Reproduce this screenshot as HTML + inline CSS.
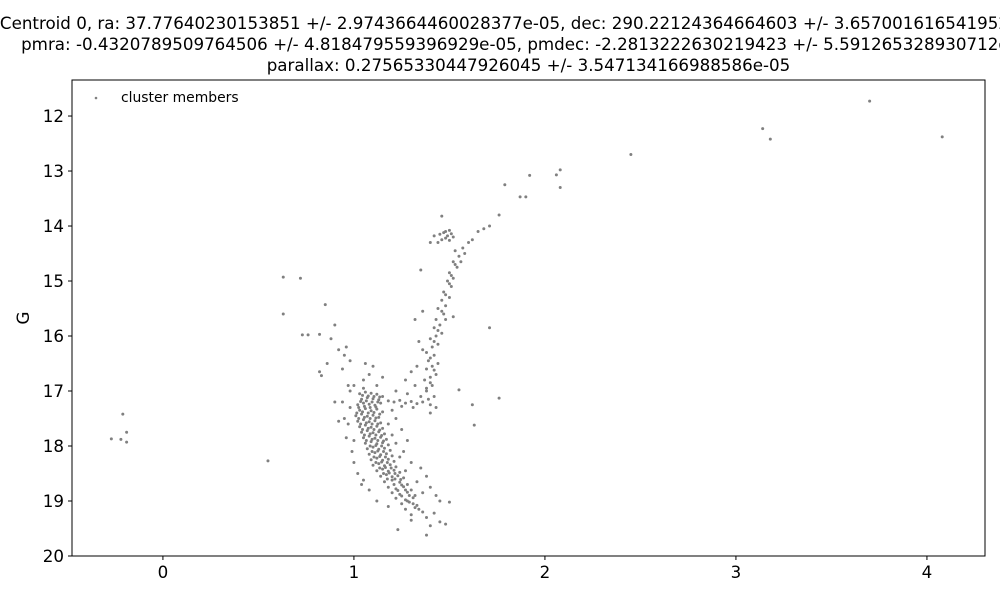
<!DOCTYPE html>
<html><head><meta charset="utf-8"><style>
html,body{margin:0;padding:0;background:#fff;overflow:hidden}
svg{display:block;font-family:"DejaVu Sans","Liberation Sans",sans-serif}
</style></head><body>
<svg id="chart" width="1000" height="600" viewBox="0 0 1000 600" xmlns="http://www.w3.org/2000/svg">
<g font-size="16.7" text-anchor="middle" fill="#000">
<text x="528.5" y="29">Centroid 0, ra: 37.77640230153851 +/- 2.9743664460028377e-05, dec: 290.22124364664603 +/- 3.6570016165419527e-05</text>
<text x="528.5" y="50">pmra: -0.4320789509764506 +/- 4.818479559396929e-05, pmdec: -2.2813222630219423 +/- 5.591265328930712e-05</text>
<text x="528.5" y="71">parallax: 0.27565330447926045 +/- 3.547134166988586e-05</text>
</g>
<g id="points"></g>
<rect x="72" y="80" width="913" height="476" fill="none" stroke="#000" stroke-width="1"/>
<g id="xaxis"></g>
<g id="yaxis"></g>
<text x="0" y="0" font-size="16.7" text-anchor="middle" transform="translate(29,318) rotate(-90)">G</text>
<g>
<circle cx="96" cy="98" r="1.3" fill="#808080"/>
<text x="121" y="102" font-size="13.9">cluster members</text>
</g>
</svg>
<script>
const xTicks=[0,1,2,3,4];
const yTicks=[12,13,14,15,16,17,18,19,20];
const members=[
[3.70,11.73],[4.08,12.38],[3.14,12.23],[3.18,12.42],[2.45,12.70],[2.08,12.98],[2.06,13.07],[2.08,13.30],[1.92,13.08],[1.79,13.25],[1.87,13.47],[1.90,13.47],[1.76,13.80],[1.71,14.00],[1.68,14.05],[1.65,14.10],[1.62,14.25],
[0.63,14.93],[0.72,14.95],[0.63,15.60],[0.85,15.43],[0.73,15.98],[0.76,15.98],[0.82,15.97],[0.90,15.80],[0.88,16.05],[0.92,16.25],[0.86,16.50],[0.82,16.65],[0.83,16.72],[0.95,16.35],
[-0.27,17.87],[-0.21,17.42],[-0.19,17.75],[-0.22,17.88],[-0.19,17.93],[0.55,18.27],
[1.03,17.05],[1.06,17.02],[1.09,17.04],[1.12,17.06],[1.15,17.1],[1.04,17.15],[1.07,17.12],[1.10,17.14],[1.13,17.16],[1.02,17.25],[1.05,17.22],[1.08,17.24],[1.11,17.26],[1.14,17.22],[1.03,17.35],[1.06,17.32],[1.09,17.36],[1.12,17.33],[1.15,17.38],[1.01,17.45],[1.04,17.42],[1.07,17.46],[1.10,17.44],[1.13,17.48],[1.02,17.55],[1.05,17.52],[1.08,17.56],[1.11,17.54],[1.14,17.58],[1.03,17.65],[1.06,17.62],[1.09,17.66],[1.12,17.64],[1.15,17.68],[1.04,17.75],[1.07,17.72],[1.10,17.76],[1.13,17.74],[1.16,17.78],[1.05,17.85],[1.08,17.82],[1.11,17.86],[1.14,17.84],[1.17,17.88],[1.06,17.95],[1.09,17.92],[1.12,17.96],[1.15,17.94],[1.18,17.98],
[1.045,17.08],[1.075,17.09],[1.105,17.1],[1.135,17.11],[1.035,17.19],[1.065,17.18],[1.095,17.2],[1.125,17.2],[1.025,17.3],[1.055,17.28],[1.085,17.3],[1.115,17.29],[1.015,17.4],[1.045,17.38],[1.075,17.4],[1.105,17.39],[1.135,17.42],[1.025,17.5],[1.055,17.48],[1.085,17.5],[1.115,17.49],[1.035,17.6],[1.065,17.58],[1.095,17.6],[1.125,17.6],[1.045,17.7],[1.075,17.68],[1.105,17.7],[1.135,17.71],[1.055,17.8],[1.085,17.78],[1.115,17.8],[1.145,17.81],[1.065,17.9],[1.095,17.88],[1.125,17.9],[1.155,17.91],[1.085,18.0],[1.115,17.99],[1.145,18.0],
[1.07,18.05],[1.10,18.02],[1.13,18.06],[1.16,18.04],[1.19,18.08],[1.08,18.15],[1.11,18.12],[1.14,18.16],[1.17,18.14],[1.20,18.18],[1.09,18.25],[1.12,18.22],[1.15,18.26],[1.18,18.24],[1.21,18.28],[1.10,18.35],[1.13,18.32],[1.16,18.36],[1.19,18.34],[1.22,18.38],[1.12,18.45],[1.15,18.42],[1.18,18.46],[1.21,18.44],[1.24,18.48],[1.14,18.55],[1.17,18.52],[1.20,18.56],[1.23,18.54],[1.26,18.58],
[1.095,18.1],[1.125,18.09],[1.155,18.1],[1.105,18.2],[1.135,18.19],[1.165,18.2],[1.115,18.3],[1.145,18.29],[1.175,18.3],[1.135,18.4],[1.165,18.39],[1.195,18.4],[1.155,18.5],[1.185,18.49],[1.215,18.5],[1.175,18.6],[1.215,18.6],[1.245,18.61],
[1.16,18.65],[1.20,18.62],[1.24,18.66],[1.28,18.7],[1.18,18.75],[1.22,18.78],[1.26,18.74],[1.30,18.8],[1.20,18.85],[1.24,18.88],[1.28,18.84],[1.32,18.9],[1.22,18.95],[1.27,18.98],[1.31,18.94],[1.25,19.05],[1.29,19.02],[1.33,19.08],[1.27,19.15],[1.32,19.12],[1.36,19.2],[1.30,19.25],[1.38,19.3],[1.42,19.22],[1.45,19.38],[1.40,19.45],[1.48,19.42],[1.38,19.62],[1.30,19.35],[1.23,19.52],
[1.21,18.7],[1.25,18.71],[1.23,18.81],[1.27,18.8],[1.25,18.91],[1.29,18.9],[1.28,19.0],[1.31,19.05],[1.34,19.15],
[0.95,17.5],[0.97,17.6],[0.98,17.3],[0.96,17.85],[0.99,18.1],[1.00,18.3],[1.02,18.5],[1.04,18.7],[1.05,18.62],[1.08,18.8],[1.12,19.0],[1.18,19.1],[1.00,17.9],[1.22,17.5],[1.25,17.7],[1.28,17.9],[1.26,18.1],[1.30,18.3],[1.35,18.4],[1.38,18.55],[1.40,18.75],[1.43,18.9],[1.45,19.0],[1.50,19.02],[1.22,17.95],[1.24,18.2],[1.27,18.45],[1.33,18.65],[1.36,18.85],[1.20,17.35],[1.18,17.6],[1.20,17.8],[0.92,17.55],[0.94,17.2],[1.00,16.9],[1.05,16.8],[1.08,16.7],[1.06,16.5],[1.10,16.55],[1.12,16.9],[1.15,16.75],[1.05,16.95],
[1.18,17.18],[1.21,17.2],[1.24,17.17],[1.27,17.22],[1.30,17.19],[1.33,17.23],[1.36,17.2],[1.39,17.15],[1.25,17.28],[1.31,17.3],[1.35,17.1],[1.28,17.05],[1.38,17.0],[1.22,17.0],[1.42,17.1],[1.40,17.25],
[1.38,16.95],[1.41,16.9],[1.37,16.8],[1.40,16.75],[1.43,16.7],[1.38,16.6],[1.41,16.55],[1.44,16.5],[1.39,16.45],[1.42,16.35],[1.38,16.3],[1.41,16.2],[1.44,16.15],[1.40,16.05],[1.43,16.0],[1.46,15.95],[1.42,15.85],[1.45,15.8],[1.43,15.7],[1.47,15.6],[1.44,15.5],[1.48,15.45],[1.46,15.35],[1.50,15.3],[1.47,15.2],[1.51,15.1],[1.49,15.0],[1.52,14.95],[1.50,14.85],[1.54,14.75],[1.52,14.65],[1.55,14.55],[1.53,14.45],[1.57,14.4],[1.60,14.3],[1.56,14.65],[1.58,14.5],[1.45,14.15],[1.47,14.12],[1.49,14.18],[1.51,14.14],[1.48,14.22],[1.46,14.25],[1.50,14.08],[1.52,14.2],[1.44,14.3],[1.46,13.82],[1.42,14.18],[1.40,14.3],[1.35,14.8],[1.32,15.7],[1.36,15.55],[1.34,16.1],[1.36,16.25],[1.33,16.55],[1.30,16.65],[1.32,16.9],[1.27,16.8],[1.48,15.7],[1.52,15.65],[1.55,16.98],[1.62,17.25],[1.63,17.62],[1.71,15.85],[1.76,17.13],[1.43,17.3],[1.40,17.4],
[1.40,16.85],[1.42,16.62],[1.40,16.4],[1.42,16.1],[1.44,15.9],[1.46,15.55],[1.48,15.25],[1.50,15.05],[1.51,14.9],[1.53,14.7],[1.48,14.1],[1.50,14.26],
[0.98,17.0],[0.97,16.9],[0.94,16.6],[0.96,16.2],[0.98,16.45],[0.90,17.2]
];
const NS='http://www.w3.org/2000/svg';
const X0=72,X1=985,Y0=80,Y1=556;
const xMin=-0.476,xMax=4.304,yMin=11.345,yMax=20;
function xs(v){return X0+(v-xMin)/(xMax-xMin)*(X1-X0);}
function ys(v){return Y0+(v-yMin)/(yMax-yMin)*(Y1-Y0);}
const pg=document.getElementById('points');
members.forEach(p=>{
 const c=document.createElementNS(NS,'circle');
 
 
 c.setAttribute('cx',xs(p[0]));c.setAttribute('cy',ys(p[1]));c.setAttribute('r',1.5);c.setAttribute('fill','#808080');
 pg.appendChild(c);
});
const xa=document.getElementById('xaxis');
xTicks.forEach(t=>{
 const x=xs(t);
 const l=document.createElementNS(NS,'line');
 
 
 l.setAttribute('x1',x);l.setAttribute('x2',x);l.setAttribute('y1',Y1);l.setAttribute('y2',Y1+4);l.setAttribute('stroke','#000');
 xa.appendChild(l);
 const tx=document.createElementNS(NS,'text');
 
 
 tx.setAttribute('x',x);tx.setAttribute('y',Y1+22);tx.setAttribute('font-size','16.7');tx.setAttribute('text-anchor','middle');
 tx.textContent=t;xa.appendChild(tx);
});
const ya=document.getElementById('yaxis');
yTicks.forEach(t=>{
 const y=ys(t);
 const l=document.createElementNS(NS,'line');
 
 
 l.setAttribute('x1',X0-4);l.setAttribute('x2',X0);l.setAttribute('y1',y);l.setAttribute('y2',y);l.setAttribute('stroke','#000');
 ya.appendChild(l);
 const tx=document.createElementNS(NS,'text');
 
 
 tx.setAttribute('x',X0-8);tx.setAttribute('y',y+6);tx.setAttribute('font-size','16.7');tx.setAttribute('text-anchor','end');
 tx.textContent=t;ya.appendChild(tx);
});
</script>
</body></html>
